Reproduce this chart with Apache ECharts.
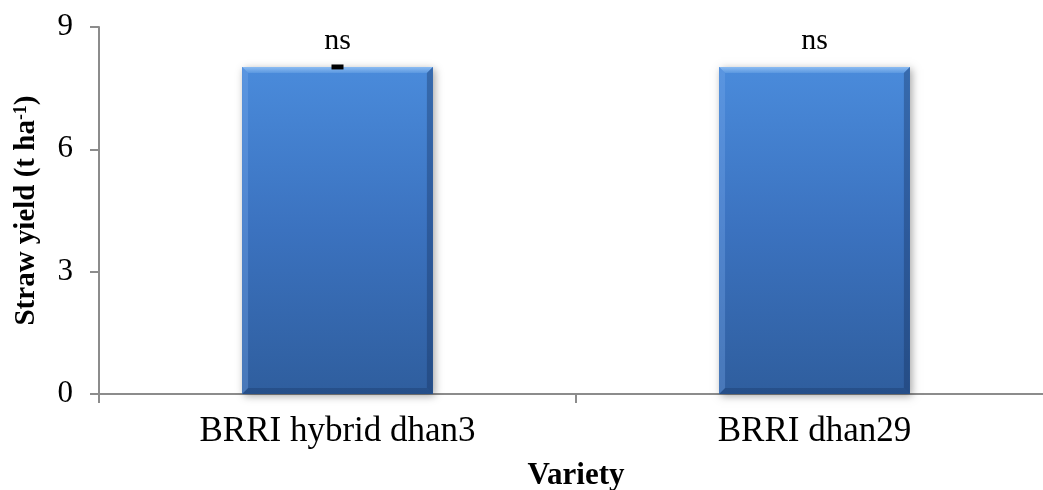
<!DOCTYPE html>
<html>
<head>
<meta charset="utf-8">
<script src="https://cdn.jsdelivr.net/npm/echarts@6/dist/echarts.min.js"></script>
<style>
  html, body { margin: 0; padding: 0; background: #ffffff; }
  #chart { width: 1043px; height: 490px; }
</style>
</head>
<body>
<div id="chart"></div>
<script>
// Straw yield by rice variety
const varieties = ['BRRI hybrid dhan3', 'BRRI dhan29'];
const strawYield = [8.02, 8.02];
const yieldError = [0.03, 0];
const significance = ['ns', 'ns'];
const yMin = 0, yMax = 9, yStep = 3;

const FONT = '"Liberation Serif", "Times New Roman", serif';
const AXIS_COLOR = '#8c8c8c';

// Bevelled bar: gradient body, light top edge, darker right/bottom edges, soft drop shadow
function renderBar(params, api) {
  const idx = api.value(0);
  const v = api.value(1);
  const top = api.coord([idx, v]);
  const base = api.coord([idx, 0]);
  const bw = api.size([1, 0])[0] * 0.4;
  const x0 = top[0] - bw / 2, x1 = top[0] + bw / 2;
  const y0 = top[1], y1 = base[1];
  const b = 6;
  return {
    type: 'group',
    children: [
      {
        type: 'rect',
        shape: { x: x0, y: y0, width: bw, height: y1 - y0 },
        style: {
          fill: '#3a6fb5',
          shadowBlur: 8, shadowColor: 'rgba(0,0,0,0.35)', shadowOffsetX: 2, shadowOffsetY: 2
        }
      },
      {
        type: 'rect',
        shape: { x: x0, y: y0, width: bw, height: y1 - y0 },
        style: {
          fill: new echarts.graphic.LinearGradient(0, 0, 0, 1, [
            { offset: 0, color: '#4a8bdb' },
            { offset: 0.5, color: '#3b72bf' },
            { offset: 1, color: '#2f5e9e' }
          ])
        }
      },
      {
        type: 'polygon',
        shape: { points: [[x0, y0], [x1, y0], [x1 - b, y0 + b], [x0 + b, y0 + b]] },
        style: {
          fill: new echarts.graphic.LinearGradient(0, 0, 0, 1, [
            { offset: 0, color: '#8cbcf2' },
            { offset: 1, color: '#5b98e0' }
          ])
        }
      },
      {
        type: 'polygon',
        shape: { points: [[x0, y0], [x0 + b, y0 + b], [x0 + b, y1 - b], [x0, y1]] },
        style: { fill: 'rgba(120,170,235,0.35)' }
      },
      {
        type: 'polygon',
        shape: { points: [[x1, y0], [x1, y1], [x1 - b, y1 - b], [x1 - b, y0 + b]] },
        style: { fill: 'rgba(20,45,90,0.35)' }
      },
      {
        type: 'polygon',
        shape: { points: [[x0, y1], [x1, y1], [x1 - b, y1 - b], [x0 + b, y1 - b]] },
        style: { fill: 'rgba(20,45,90,0.3)' }
      },
      {
        type: 'text',
        style: {
          text: significance[idx],
          x: top[0], y: y0 - 11,
          align: 'center', verticalAlign: 'bottom',
          font: '30px ' + FONT, fill: '#000000'
        }
      }
    ]
  };
}

// Error cap drawn at the bar top
function renderError(params, api) {
  const idx = api.value(0);
  const v = api.value(1);
  const e = api.value(2);
  if (!e) return null;
  const hi = api.coord([idx, v + e]);
  const lo = api.coord([idx, v - e]);
  const half = 6;
  return {
    type: 'group',
    children: [
      { type: 'line', shape: { x1: hi[0], y1: hi[1], x2: lo[0], y2: lo[1] }, style: { stroke: '#000', lineWidth: 2 } },
      { type: 'line', shape: { x1: hi[0] - half, y1: hi[1], x2: hi[0] + half, y2: hi[1] }, style: { stroke: '#000', lineWidth: 2.5 } },
      { type: 'line', shape: { x1: lo[0] - half, y1: lo[1], x2: lo[0] + half, y2: lo[1] }, style: { stroke: '#000', lineWidth: 2.5 } }
    ]
  };
}

const chart = echarts.init(document.getElementById('chart'), null, { renderer: 'canvas' });
chart.setOption({
  backgroundColor: '#ffffff',
  animation: false,
  grid: { left: 99, width: 954, top: 27, bottom: 96, containLabel: false, outerBoundsMode: 'none' },
  xAxis: {
    type: 'category',
    data: varieties,
    boundaryGap: true,
    name: 'Variety',
    nameLocation: 'middle',
    nameGap: 66,
    nameTextStyle: { fontFamily: FONT, fontSize: 31, fontWeight: 'bold', color: '#000' },
    axisLine: { lineStyle: { color: AXIS_COLOR, width: 2 } },
    axisTick: { show: true, length: 9, alignWithLabel: false, lineStyle: { color: AXIS_COLOR, width: 2 } },
    axisLabel: { fontFamily: FONT, fontSize: 35, color: '#000', margin: 20 },
    splitLine: { show: false }
  },
  yAxis: {
    type: 'value',
    min: yMin, max: yMax, interval: yStep,
    name: '{b|Straw yield (t ha}{s|-1}{b|)}',
    nameLocation: 'middle',
    nameGap: 57,
    nameRotate: 90,
    nameTextStyle: {
      rich: {
        b: { fontFamily: FONT, fontSize: 29, fontWeight: 'bold', color: '#000' },
        s: { fontFamily: FONT, fontSize: 18, fontWeight: 'bold', color: '#000', verticalAlign: 'top', padding: [0, 0, 12, 0] }
      }
    },
    axisLine: { show: true, lineStyle: { color: AXIS_COLOR, width: 2 } },
    axisTick: { show: true, length: 9, lineStyle: { color: AXIS_COLOR, width: 2 } },
    axisLabel: { fontFamily: FONT, fontSize: 31, color: '#000', margin: 26 },
    splitLine: { show: false }
  },
  series: [
    {
      type: 'custom',
      renderItem: renderBar,
      data: varieties.map((c, i) => [i, strawYield[i]]),
      z: 2
    },
    {
      type: 'custom',
      renderItem: renderError,
      data: varieties.map((c, i) => [i, strawYield[i], yieldError[i]]),
      z: 3
    }
  ]
});
</script>
</body>
</html>
